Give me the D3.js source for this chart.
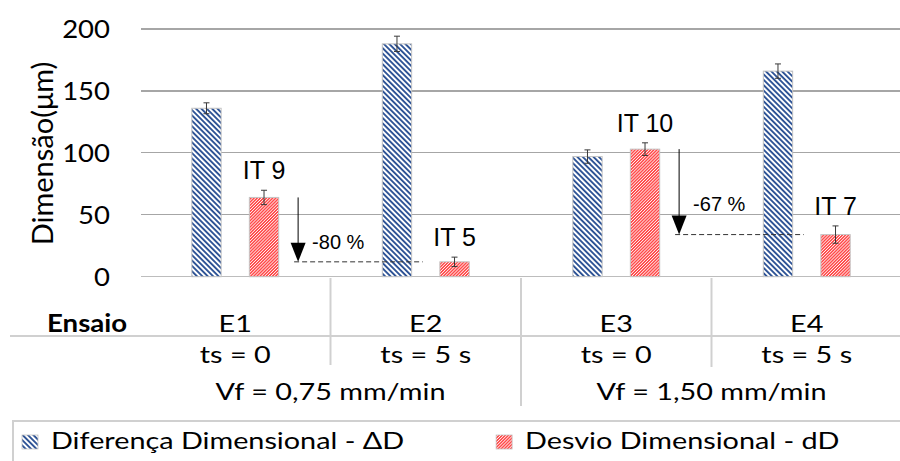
<!DOCTYPE html>
<html><head><meta charset="utf-8">
<script src="https://cdn.jsdelivr.net/npm/d3@7"></script>
<style>
body{margin:0;background:#fff}
svg{display:block}
text{font-family:Lato,"Open Sans",sans-serif;fill:#000}
.arial{font-family:"Liberation Sans",Arial,sans-serif}
</style></head><body>
<svg id="chart" width="900" height="461"></svg>
<script>
// Ensaios and their process settings
const ensaios = ["E1", "E2", "E3", "E4"];
const tsLabels = ["ts = 0", "ts = 5 s", "ts = 0", "ts = 5 s"];
const vfLabels = ["Vf = 0,75 mm/min", "Vf = 1,50 mm/min"];

// Diferença dimensional (ΔD) and desvio dimensional (dD), in µm, with error bars
const diffValues = [136, 188, 97, 166];
const diffErrors = [4.4, 6.2, 5.4, 5.8];
const devValues  = [64, 12, 103, 34];
const devErrors  = [5.8, 3.8, 5.1, 7.0];
const itLabels   = ["IT 9", "IT 5", "IT 10", "IT 7"];

const yTicks = [0, 50, 100, 150, 200];
const seriesNames = ["Diferença Dimensional - ΔD", "Desvio Dimensional - dD"];

// Reduction of dD when the dwell time goes from 0 to 5 s
const reductions = [
  { from: "E1", to: "E2", label: "-80 %" },
  { from: "E3", to: "E4", label: "-67 %" }
];

const svg = d3.select("#chart");
const BLUE = "#2F5496", RED = "#FF4B4B";

// hatch fills
const defs = svg.append("defs");
function hatch(id, color, period, stripe, angle) {
  const p = defs.append("pattern").attr("id", id)
    .attr("patternUnits", "userSpaceOnUse")
    .attr("width", period).attr("height", period)
    .attr("patternTransform", `rotate(${angle})`);
  p.append("rect").attr("width", period).attr("height", period).attr("fill", "#fff");
  p.append("rect").attr("width", stripe).attr("height", period).attr("fill", color);
}
hatch("hBlue", BLUE, 3.8, 1.9, -45);
hatch("hRed", RED, 2.2, 1.5, 45);

const x = d3.scaleBand().domain(ensaios).range([140, 902]);
const inner = d3.scaleBand().domain(["diff", "dev"]).range([0, x.bandwidth()])
  .paddingInner(0.49).paddingOuter(0.9);
const y = d3.scaleLinear().domain([0, 200]).range([276.7, 29]);

// text with the chart's slightly widened lettering
function label(g, px, py, s, o) {
  o = Object.assign({ size: 24, anchor: "middle", sx: 1.2, weight: 400 }, o);
  return g.append("text")
    .attr("transform", `translate(${px},${py}) scale(${o.sx},1)`)
    .attr("text-anchor", o.anchor)
    .style("font-size", o.size + "px")
    .style("font-weight", o.weight)
    .text(s);
}

// gridlines + axis line
const grid = svg.append("g");
grid.selectAll("line").data(yTicks).join("line")
  .attr("x1", 141).attr("x2", 900)
  .attr("y1", d => y(d)).attr("y2", d => y(d))
  .attr("stroke", d => d === 0 ? "#bdbdbd" : "#a6a6a6")
  .attr("stroke-width", d => d === 0 ? 1.5 : 1.2)
  .attr("shape-rendering", "crispEdges");

// y tick labels
const yAxisG = svg.append("g");
yTicks.forEach(t => label(yAxisG, 110, y(t) + 9, String(t), { size: 25, anchor: "end", sx: 1.1 }));

// y title
svg.append("text")
  .attr("transform", "translate(53,153.5) rotate(-90)")
  .attr("text-anchor", "middle")
  .style("font-size", "29px")
  .text("Dimensão(μm)");

// bars
const rows = ensaios.map((e, i) => ({ e, diff: diffValues[i], dErr: diffErrors[i], dev: devValues[i], vErr: devErrors[i], it: itLabels[i] }));
const bars = svg.append("g");
const series = [
  { key: "diff", val: r => r.diff, err: r => r.dErr, fill: "url(#hBlue)" },
  { key: "dev", val: r => r.dev, err: r => r.vErr, fill: "url(#hRed)" }
];
series.forEach(s => {
  bars.selectAll(null).data(rows).join("rect")
    .attr("x", r => x(r.e) + inner(s.key))
    .attr("y", r => y(s.val(r)))
    .attr("width", inner.bandwidth())
    .attr("height", r => y(0) - y(s.val(r)))
    .attr("fill", s.fill)
    .attr("stroke", "#c4c4c4").attr("stroke-width", 1);
  // error bars
  const eb = bars.selectAll(null).data(rows).join("g")
    .attr("stroke", "#3a3a3a").attr("stroke-width", 1);
  const cx = r => x(r.e) + inner(s.key) + inner.bandwidth() / 2;
  eb.append("line").attr("x1", cx).attr("x2", cx)
    .attr("y1", r => y(s.val(r) + s.err(r))).attr("y2", r => y(s.val(r) - s.err(r)));
  eb.append("line").attr("x1", r => cx(r) - 3).attr("x2", r => cx(r) + 3)
    .attr("y1", r => y(s.val(r) + s.err(r))).attr("y2", r => y(s.val(r) + s.err(r)));
  eb.append("line").attr("x1", r => cx(r) - 3).attr("x2", r => cx(r) + 3)
    .attr("y1", r => y(s.val(r) - s.err(r))).attr("y2", r => y(s.val(r) - s.err(r)));
});

// IT grade over each dD bar
const itG = svg.append("g");
rows.forEach(r => {
  itG.append("text").attr("class", "arial")
    .attr("x", x(r.e) + inner("dev") + inner.bandwidth() / 2)
    .attr("y", y(r.dev + r.vErr) - 11)
    .attr("text-anchor", "middle")
    .style("font-size", "25px")
    .text(r.it);
});

// reduction arrows
const ann = svg.append("g");
reductions.forEach(a => {
  const i0 = ensaios.indexOf(a.from), i1 = ensaios.indexOf(a.to);
  const ax = x(a.from) + x.step() * 0.83;
  const yTop = y(devValues[i0]), yEnd = y(devValues[i1]);
  ann.append("line").attr("x1", ax).attr("x2", ax).attr("y1", yTop).attr("y2", yEnd - 16)
    .attr("stroke", "#000").attr("stroke-width", 1);
  ann.append("path")
    .attr("d", `M${ax - 7.5},${yEnd - 19}L${ax + 7.5},${yEnd - 19}L${ax},${yEnd}Z`)
    .attr("fill", "#000");
  ann.append("line").attr("x1", ax - 4).attr("x2", x(a.to) + x.bandwidth() / 2 - 3)
    .attr("y1", yEnd).attr("y2", yEnd)
    .attr("stroke", "#333").attr("stroke-width", 1).attr("stroke-dasharray", "5,3");
  ann.append("text").attr("class", "arial")
    .attr("x", ax + 14).attr("y", (yTop + yEnd) / 2 + 19)
    .style("font-size", "20px")
    .text(a.label);
});

// multi-level category table
const tbl = svg.append("g");
const LINE = "#d0d0d0";
label(tbl, 47, 332, "Ensaio", { anchor: "start", weight: 700, sx: 1.15 });
ensaios.forEach(e => label(tbl, x(e) + x.bandwidth() / 2, 332, e));
tsLabels.forEach((t, i) => label(tbl, x(ensaios[i]) + x.bandwidth() / 2, 363, t));
vfLabels.forEach((v, i) => {
  const a = x(ensaios[i * 2]), b = x(ensaios[i * 2 + 1]) + x.bandwidth();
  label(tbl, (a + b) / 2, 400, v);
});
tbl.append("line").attr("x1", 10).attr("x2", 900).attr("y1", 336).attr("y2", 336)
  .attr("stroke", LINE).attr("stroke-width", 2);
[["E2", 365], ["E3", 406], ["E4", 367]].forEach(([e, yb]) => {
  tbl.append("line").attr("x1", x(e)).attr("x2", x(e)).attr("y1", 278).attr("y2", yb)
    .attr("stroke", LINE).attr("stroke-width", 2);
});

// legend
const leg = svg.append("g");
leg.append("rect").attr("x", 13).attr("y", 421).attr("width", 900).attr("height", 60)
  .attr("fill", "none").attr("stroke", LINE).attr("stroke-width", 2);
let lx = 22;
["url(#hBlue)", "url(#hRed)"].forEach((f, i) => {
  leg.append("rect").attr("x", lx).attr("y", 435).attr("width", 16).attr("height", 14)
    .attr("fill", f).attr("stroke", "#c4c4c4").attr("stroke-width", 0.8);
  const t = label(leg, lx + 29, 449, seriesNames[i], { anchor: "start" });
  lx = lx + 29 + t.node().getComputedTextLength() * 1.2 + 92;
});
</script>
</body></html>
